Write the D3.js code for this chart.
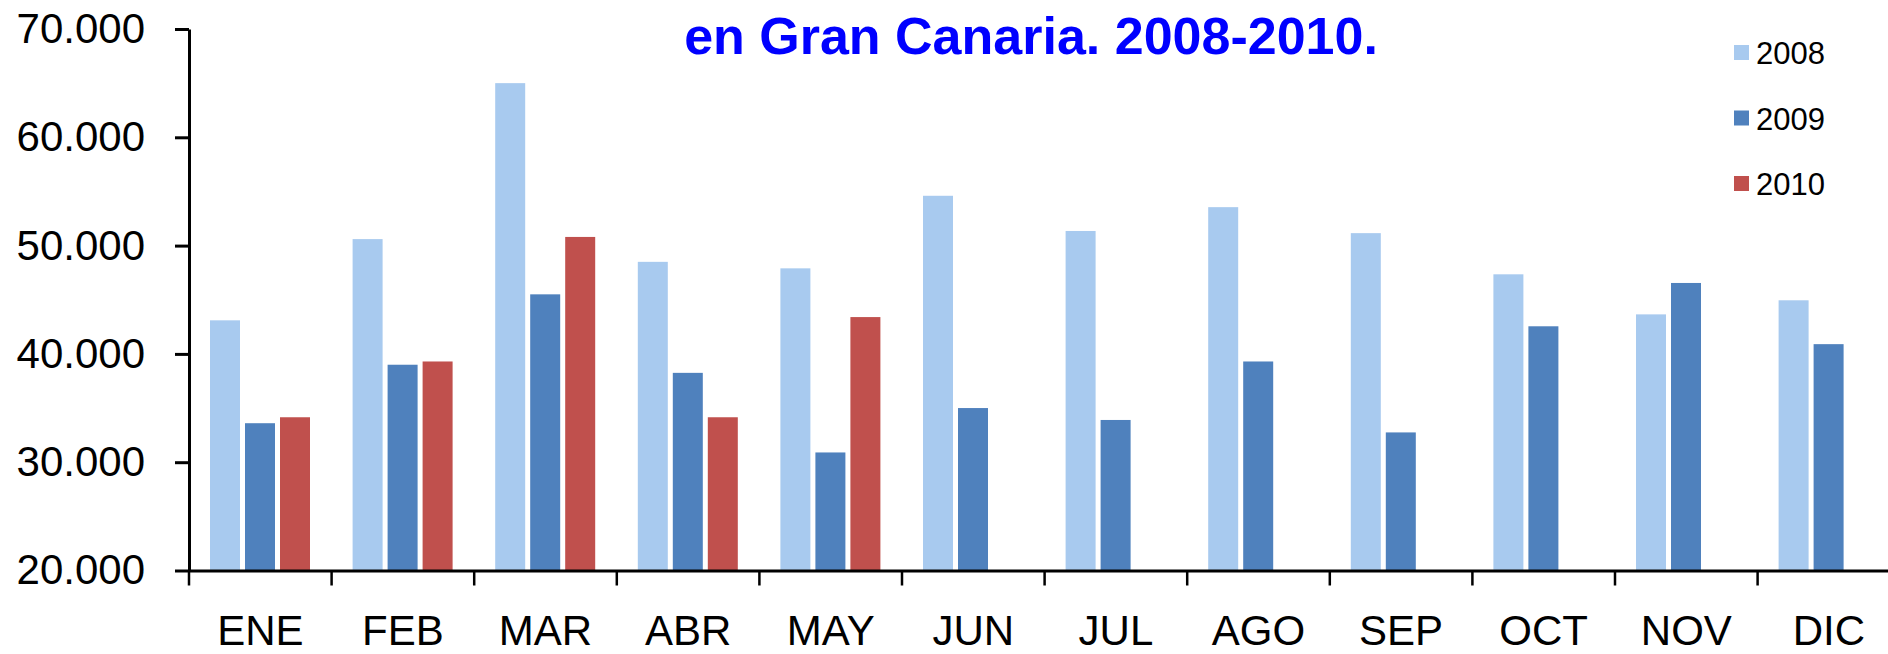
<!DOCTYPE html>
<html>
<head>
	<meta charset="utf-8">
	<title>Gran Canaria 2008-2010</title>
	<script src="https://cdn.jsdelivr.net/npm/d3@7"></script>
	<style>
		body { margin: 0; background: #fff; }
		svg { display: block; font-family: "Liberation Sans", Arial, sans-serif; }
	</style>
</head>
<body>
	<svg id="chart" width="1888" height="654"></svg>
	<script>
		// data
		var months = ["ENE", "FEB", "MAR", "ABR", "MAY", "JUN", "JUL", "AGO", "SEP", "OCT", "NOV", "DIC"];
		var years = ["2008", "2009", "2010"];
		var v2008 = [43100, 50600, 65000, 48500, 47900, 54600, 51350, 53550, 51150, 47350, 43650, 44950];
		var v2009 = [33600, 39000, 45500, 38250, 30900, 35000, 33900, 39300, 32750, 42550, 46550, 40900];
		var v2010 = [34150, 39300, 50800, 34150, 43400, null, null, null, null, null, null, null];
		var yTicks = [20000, 30000, 40000, 50000, 60000, 70000];
		var colors = ["#A8CAEF", "#4F81BD", "#C0504D"];

		var series = [v2008, v2009, v2010];

		var svg = d3.select("#chart");
		var plotLeft = 189, plotTop = 29, plotBottom = 570.5, step = 142.6;

		var es = d3.formatLocale({ decimal: ",", thousands: ".", grouping: [3], currency: ["", "€"] });
		var fmt = es.format(",.0f");

		var x = d3.scaleBand().domain(months).range([plotLeft, plotLeft + step * months.length]).padding(0);
		var xs = d3.scaleBand().domain(years).range([21, 121]).paddingInner(5 / 35).paddingOuter(0);
		var y = d3.scaleLinear().domain([20000, 70000]).range([plotBottom, plotTop]);

		// bars
		years.forEach(function (yr, i) {
			svg.append("g").selectAll("rect")
				.data(months.map(function (m, j) { return { m: m, v: series[i][j] }; }).filter(function (d) { return d.v != null; }))
				.enter().append("rect")
				.attr("x", function (d) { return x(d.m) + xs(yr); })
				.attr("width", xs.bandwidth())
				.attr("y", function (d) { return y(d.v); })
				.attr("height", function (d) { return y(20000) - y(d.v); })
				.attr("fill", colors[i]);
		});

		// y axis
		var gy = svg.append("g")
			.attr("transform", "translate(" + plotLeft + ",0)")
			.call(d3.axisLeft(y).tickValues(yTicks).tickFormat(fmt).tickSize(14).tickSizeOuter(0).tickPadding(30));
		gy.selectAll("text").attr("font-size", 42).attr("fill", "#000").attr("font-family", "Liberation Sans, Arial, sans-serif");
		gy.selectAll("line, path").attr("stroke", "#000").attr("stroke-width", 3);

		// x axis: labels centred, tick marks on the band edges
		var gx = svg.append("g")
			.attr("transform", "translate(0," + plotBottom + ")")
			.call(d3.axisBottom(x).tickSize(0).tickSizeOuter(0).tickPadding(45));
		gx.selectAll("text").attr("font-size", 42).attr("fill", "#000").attr("font-family", "Liberation Sans, Arial, sans-serif");
		gx.select("path").attr("stroke", "#000").attr("stroke-width", 3);
		gx.selectAll(".edge")
			.data(months)
			.enter().append("line")
			.attr("class", "edge")
			.attr("x1", function (m) { return x(m); })
			.attr("x2", function (m) { return x(m); })
			.attr("y1", 0)
			.attr("y2", 15)
			.attr("stroke", "#000")
			.attr("stroke-width", 2.5);

		// title
		svg.append("text")
			.attr("x", 1031)
			.attr("y", 54)
			.attr("text-anchor", "middle")
			.attr("font-size", 52)
			.attr("font-weight", "bold")
			.attr("fill", "#0000FF")
			.text("en Gran Canaria. 2008-2010.");

		// legend
		var lg = svg.append("g").selectAll("g")
			.data(years)
			.enter().append("g")
			.attr("transform", function (d, i) { return "translate(1734," + (45 + i * 65.5) + ")"; });
		lg.append("rect")
			.attr("width", 15)
			.attr("height", 15)
			.attr("fill", function (d, i) { return colors[i]; });
		lg.append("text")
			.attr("x", 22)
			.attr("y", 19)
			.attr("font-size", 31)
			.attr("fill", "#000")
			.text(function (d) { return d; });
	</script>
</body>
</html>
